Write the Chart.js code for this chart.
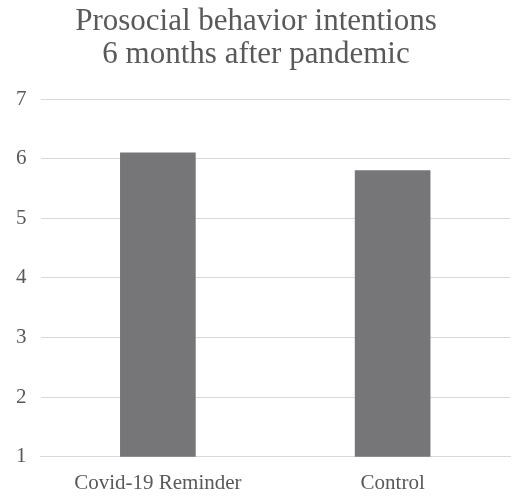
<!DOCTYPE html>
<html>
<head>
<meta charset="utf-8">
<script src="https://cdn.jsdelivr.net/npm/chart.js@4"></script>
<style>
  html, body { margin: 0; padding: 0; background: #fff; }
  #wrap { width: 520px; height: 502px; }
</style>
</head>
<body>
<div id="wrap"><canvas id="chart"></canvas></div>
<script>
const categories = ['Covid-19 Reminder', 'Control'];
const intentions = [6.1, 5.8];
const yTicks = [1, 2, 3, 4, 5, 6, 7];

new Chart(document.getElementById('chart'), {
    type: 'bar',
    data: {
        labels: categories,
        datasets: [{
            data: intentions,
            backgroundColor: '#767679',
            barThickness: 75
        }]
    },
    options: {
        responsive: true,
        maintainAspectRatio: false,
        animation: false,
        layout: { padding: { left: 2, right: 10, top: 0, bottom: 0 } },
        plugins: {
            legend: { display: false },
            tooltip: { enabled: false },
            title: {
                display: true,
                text: ['Prosocial behavior intentions', '6 months after pandemic'],
                color: '#595959',
                font: { family: 'Liberation Serif', size: 31, weight: 'normal', lineHeight: 1.05 },
                padding: { top: 6, bottom: 28 }
            }
        },
        scales: {
            x: {
                grid: { display: false },
                border: { color: '#d9d9d9' },
                ticks: { color: '#595959', padding: 6, font: { family: 'Liberation Serif', size: 21 } }
            },
            y: {
                min: yTicks[0],
                max: yTicks[yTicks.length - 1],
                border: { display: false },
                grid: { color: '#d9d9d9', drawTicks: false },
                afterBuildTicks: axis => { axis.ticks = yTicks.map(v => ({ value: v })); },
                ticks: { color: '#595959', padding: 14, font: { family: 'Liberation Serif', size: 21 } }
            }
        }
    }
});
</script>
</body>
</html>
